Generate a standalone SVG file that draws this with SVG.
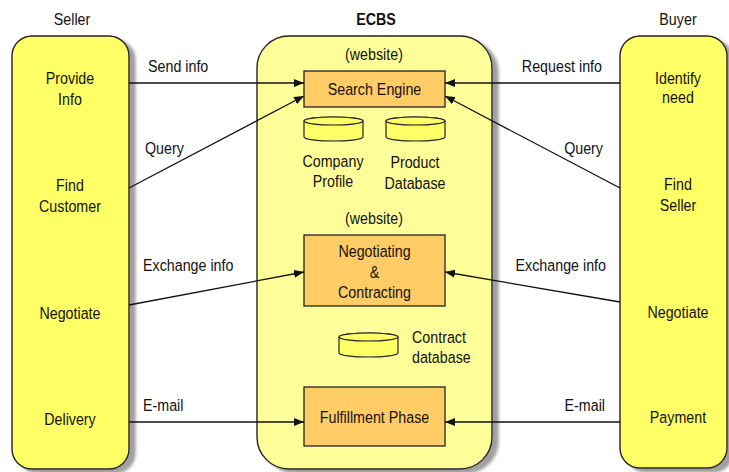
<svg xmlns="http://www.w3.org/2000/svg" width="729" height="472" viewBox="0 0 729 472">
  <style>
    text { font-family: "Liberation Sans", Arial, sans-serif; font-size: 17px; fill: #111; }
    .c { text-anchor: middle; }
    .r { text-anchor: end; }
    .title { font-weight: bold; }
    .lane { fill: #FFFF66; stroke: #222; stroke-width: 1.4; }
    .sys { fill: #FFFF99; stroke: #222; stroke-width: 1.4; }
    .step { fill: #FFCC66; stroke: #222; stroke-width: 1.3; }
    .db { fill: #FFFF66; stroke: #222; stroke-width: 1.2; }
    .link { fill: none; stroke: #111; stroke-width: 1.3; marker-end: url(#arrow); }
  </style>
  <defs>
    <filter id="shadow" x="-10%" y="-5%" width="130%" height="115%">
      <feDropShadow dx="6" dy="4" stdDeviation="1.8" flood-color="#808080" flood-opacity="0.75"/>
    </filter>
    <marker id="arrow" viewBox="0 0 10 8" refX="10" refY="4" markerWidth="10" markerHeight="8" markerUnits="userSpaceOnUse" orient="auto">
      <path d="M0,0 L10,4 L0,8 Z" fill="#111"/>
    </marker>
  </defs>

  <rect width="729" height="472" fill="#FFFFFF"/>

  <!-- Labels use a condensed face: each text group is squeezed to 84% width,
       so x coordinates inside those groups are divided by 0.84. -->

  <!-- column headings -->
  <g transform="scale(0.84 1)">
    <text class="c" x="85.71" y="25">Seller</text>
    <text class="c title" x="447.62" y="25">ECBS</text>
    <text class="c" x="807.14" y="25">Buyer</text>
  </g>

  <!-- Seller lane -->
  <g id="seller">
    <rect class="lane" x="12" y="36" width="117" height="433" rx="20" filter="url(#shadow)"/>
    <g transform="scale(0.84 1)">
      <text class="c" x="83.33" y="84">Provide</text>
      <text class="c" x="83.33" y="105">Info</text>
      <text class="c" x="83.33" y="191">Find</text>
      <text class="c" x="83.33" y="212">Customer</text>
      <text class="c" x="83.33" y="319">Negotiate</text>
      <text class="c" x="83.33" y="425">Delivery</text>
    </g>
  </g>

  <!-- ECBS system container -->
  <g id="ecbs">
    <rect class="sys" x="257" y="36" width="235" height="433" rx="32" filter="url(#shadow)"/>
    <g transform="scale(0.84 1)">
      <text class="c" x="445.24" y="60">(website)</text>
      <text class="c" x="445.24" y="224">(website)</text>
    </g>
  </g>

  <!-- Buyer lane -->
  <g id="buyer">
    <rect class="lane" x="620" y="36" width="107" height="432" rx="20" filter="url(#shadow)"/>
    <g transform="scale(0.84 1)">
      <text class="c" x="807.14" y="84">Identify</text>
      <text class="c" x="807.14" y="103">need</text>
      <text class="c" x="807.14" y="190">Find</text>
      <text class="c" x="807.14" y="211">Seller</text>
      <text class="c" x="807.14" y="318">Negotiate</text>
      <text class="c" x="807.14" y="423">Payment</text>
    </g>
  </g>

  <!-- process steps -->
  <g id="search-engine">
    <rect class="step" x="304" y="71" width="141" height="36"/>
    <g transform="scale(0.84 1)">
      <text class="c" x="445.83" y="95">Search Engine</text>
    </g>
  </g>
  <g id="negotiating">
    <rect class="step" x="304" y="235" width="141" height="71"/>
    <g transform="scale(0.84 1)">
      <text class="c" x="445.83" y="257">Negotiating</text>
      <text class="c" x="445.83" y="278">&amp;</text>
      <text class="c" x="445.83" y="298">Contracting</text>
    </g>
  </g>
  <g id="fulfillment">
    <rect class="step" x="304" y="387" width="141" height="59"/>
    <g transform="scale(0.84 1)">
      <text class="c" x="445.83" y="423">Fulfillment Phase</text>
    </g>
  </g>

  <!-- data stores -->
  <g id="company-profile">
    <path class="db" d="M304,121 L304,137 A29.5,4 0 0 0 363,137 L363,121 A29.5,4 0 0 0 304,121 Z"/>
    <ellipse class="db" cx="333.5" cy="121" rx="29.5" ry="4"/>
    <g transform="scale(0.84 1)">
      <text class="c" x="396.43" y="167">Company</text>
      <text class="c" x="396.43" y="187">Profile</text>
    </g>
  </g>
  <g id="product-database">
    <path class="db" d="M386,121 L386,137 A29.5,4 0 0 0 445,137 L445,121 A29.5,4 0 0 0 386,121 Z"/>
    <ellipse class="db" cx="415.5" cy="121" rx="29.5" ry="4"/>
    <g transform="scale(0.84 1)">
      <text class="c" x="494.05" y="168">Product</text>
      <text class="c" x="494.05" y="189">Database</text>
    </g>
  </g>
  <g id="contract-database">
    <path class="db" d="M339,337 L339,353 A29.5,4 0 0 0 398,353 L398,337 A29.5,4 0 0 0 339,337 Z"/>
    <ellipse class="db" cx="368.5" cy="337" rx="29.5" ry="4"/>
    <g transform="scale(0.84 1)">
      <text x="490.48" y="343">Contract</text>
      <text x="490.48" y="363">database</text>
    </g>
  </g>

  <!-- message flows -->
  <g id="connectors">
    <line class="link" x1="129" y1="83" x2="304" y2="83"/>
    <line class="link" x1="129" y1="188" x2="304" y2="96"/>
    <line class="link" x1="129" y1="305" x2="304" y2="272"/>
    <line class="link" x1="129" y1="422" x2="304" y2="422"/>
    <line class="link" x1="620" y1="83" x2="445" y2="83"/>
    <line class="link" x1="620" y1="188" x2="445" y2="96"/>
    <line class="link" x1="620" y1="302" x2="445" y2="272"/>
    <line class="link" x1="620" y1="422" x2="445" y2="422"/>
    <g transform="scale(0.84 1)">
      <text x="176.19" y="72">Send info</text>
      <text x="172.62" y="154">Query</text>
      <text x="170.24" y="271">Exchange info</text>
      <text x="170.24" y="411">E-mail</text>
      <text class="r" x="716.67" y="72">Request info</text>
      <text class="r" x="717.86" y="154">Query</text>
      <text class="r" x="721.43" y="271">Exchange info</text>
      <text class="r" x="720.24" y="411">E-mail</text>
    </g>
  </g>
</svg>
